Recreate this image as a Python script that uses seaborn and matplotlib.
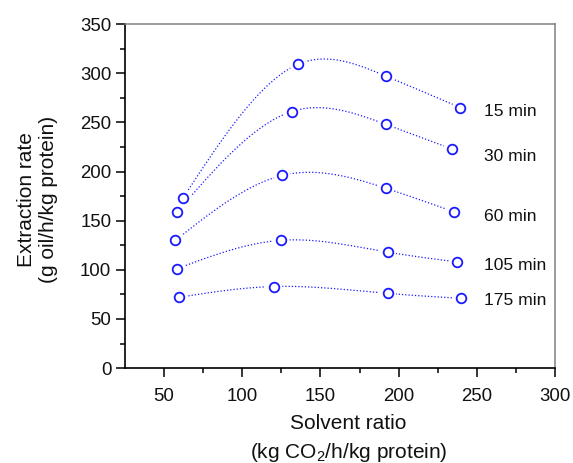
import numpy as np
import pandas as pd
import matplotlib
matplotlib.use("Agg")
import matplotlib.pyplot as plt
import seaborn as sns

# Extraction time of each series (min)
times = ["15 min", "30 min", "60 min", "105 min", "175 min"]

# Solvent ratio (kg CO2/h/kg protein) and extraction rate (g oil/h/kg protein)
ratio_15 = [62.1, 135.6, 192.0, 239.5]
rate_15 = [173, 309, 297, 265]
ratio_30 = [58.5, 131.6, 191.8, 233.9]
rate_30 = [159, 261, 248, 223]
ratio_60 = [57.3, 125.6, 191.8, 235.4]
rate_60 = [130, 196, 183, 159]
ratio_105 = [58.1, 124.7, 192.9, 237.6]
rate_105 = [101, 130, 118, 108]
ratio_175 = [59.4, 120.2, 192.9, 239.7]
rate_175 = [72, 83, 76, 71]

x_ticks = [50, 100, 150, 200, 250, 300]
y_ticks = [0, 50, 100, 150, 200, 250, 300, 350]

series = list(zip(times,
                  [ratio_15, ratio_30, ratio_60, ratio_105, ratio_175],
                  [rate_15, rate_30, rate_60, rate_105, rate_175]))

df = pd.concat([pd.DataFrame({"time": t, "ratio": xr, "rate": yr})
                for t, xr, yr in series], ignore_index=True)


def natural_spline(x, y, n=300):
    """Natural cubic spline through (x, y), sampled at n points."""
    x = np.asarray(x, float)
    y = np.asarray(y, float)
    k = len(x)
    h = np.diff(x)
    A = np.zeros((k, k))
    b = np.zeros(k)
    A[0, 0] = A[-1, -1] = 1.0
    for i in range(1, k - 1):
        A[i, i - 1] = h[i - 1]
        A[i, i] = 2 * (h[i - 1] + h[i])
        A[i, i + 1] = h[i]
        b[i] = 6 * ((y[i + 1] - y[i]) / h[i] - (y[i] - y[i - 1]) / h[i - 1])
    M = np.linalg.solve(A, b)
    xs = np.linspace(x[0], x[-1], n)
    idx = np.clip(np.searchsorted(x, xs) - 1, 0, k - 2)
    x0, x1 = x[idx], x[idx + 1]
    hh = x1 - x0
    t0, t1 = x1 - xs, xs - x0
    ys = (M[idx] * t0 ** 3 / (6 * hh) + M[idx + 1] * t1 ** 3 / (6 * hh)
          + (y[idx] / hh - M[idx] * hh / 6) * t0
          + (y[idx + 1] / hh - M[idx + 1] * hh / 6) * t1)
    return xs, ys


sns.set_theme(style="ticks")
plt.rcParams["font.family"] = ["Liberation Sans", "DejaVu Sans"]
plt.rcParams["mathtext.fontset"] = "custom"
plt.rcParams["mathtext.rm"] = "Liberation Sans"
plt.rcParams["mathtext.it"] = "Liberation Sans:italic"

blue = "#1a1aff"

fig = plt.figure(figsize=(5.73, 4.63), dpi=100)
ax = fig.add_axes([0.218, 0.205, 0.7506, 0.743])

# smooth dotted connecting curves
for t, xr, yr in series:
    xs, ys = natural_spline(xr, yr)
    ax.plot(xs, ys, color=blue, lw=0.9, linestyle=(0, (1.0, 1.6)), zorder=2)

# white halos leave a small gap between curve and symbol
ax.scatter(df["ratio"], df["rate"], s=150, color="white", edgecolor="none", zorder=3)
sns.scatterplot(data=df, x="ratio", y="rate", ax=ax, marker="o", s=48,
                facecolor="white", edgecolor=blue, linewidth=1.3,
                legend=False, zorder=4)

# series labels
label_y = {"15 min": 261, "30 min": 215.5, "60 min": 154,
           "105 min": 104.5, "175 min": 69}
for t in times:
    ax.text(254.5, label_y[t], t, fontsize=12.6, va="center", ha="left",
            family=["Liberation Sans Narrow", "Liberation Sans", "DejaVu Sans"],
            color="#111111")

ax.set_xlim(25, 300)
ax.set_ylim(0, 350)
ax.set_xticks(x_ticks)
ax.set_yticks(y_ticks)
ax.set_xticks(np.arange(75, 300, 50), minor=True)
ax.set_yticks(np.arange(25, 350, 50), minor=True)

for side in ["left", "bottom"]:
    ax.spines[side].set_color("black")
    ax.spines[side].set_linewidth(1.2)
for side in ["top", "right"]:
    ax.spines[side].set_visible(True)
    ax.spines[side].set_color("#808080")
    ax.spines[side].set_linewidth(1.1)

ax.tick_params(which="major", direction="out", length=6.5, width=1.1,
               color="black", labelsize=13.4, labelcolor="#111111",
               top=False, right=False)
ax.tick_params(axis="x", which="major", pad=8)
ax.tick_params(axis="y", which="major", pad=3.3)
ax.tick_params(which="minor", direction="out", length=3.8, width=1.1,
               color="black", top=False, right=False)

ax.set_xlabel("Solvent ratio\n(kg CO$_2$/h/kg protein)", fontsize=15,
              linespacing=1.45, va="center", color="#111111")
ax.xaxis.set_label_coords(0.52, -0.207)
ax.set_ylabel("Extraction rate\n(g oil/h/kg protein)", fontsize=15,
              linespacing=1.15, va="center", color="#111111")
ax.yaxis.set_label_coords(-0.203, 0.49)

fig.savefig("out.png", dpi=100, facecolor="white")
